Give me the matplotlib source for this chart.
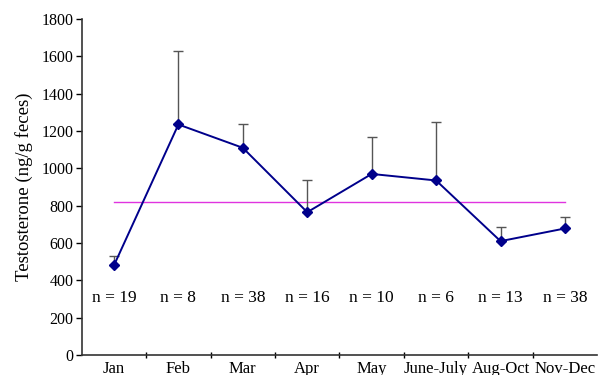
import numpy as np
import matplotlib.pyplot as plt

# 데이터
months = ["Jan", "Feb", "Mar", "Apr", "May", "June-July", "Aug-Oct", "Nov-Dec"]
mean_t = [480, 1235, 1110, 765, 970, 935, 610, 678]
err_up = [50, 395, 130, 175, 200, 315, 77, 60]
n_labels = ["n = 19", "n = 8", "n = 38", "n = 16", "n = 10", "n = 6", "n = 13", "n = 38"]
overall_mean = 820

plt.rcParams['font.family'] = ['Liberation Serif', 'DejaVu Serif']

fig = plt.figure(figsize=(6.1, 3.75), dpi=100)
ax = fig.add_axes([0.134, 0.0533, 0.845, 0.896])

x = np.arange(len(months))

# 평균선
ax.plot([x[0], x[-1]], [overall_mean, overall_mean], color="#e033e0", lw=1.0, zorder=1)

# 오차 막대 (위쪽만)
ax.errorbar(x, mean_t, yerr=[np.zeros(len(x)), err_up], fmt="none",
            ecolor="#555555", elinewidth=1.0, capsize=3.5, capthick=1.0, zorder=2)
ax.plot(x, mean_t, color="#00008b", lw=1.4, marker="D", markersize=5.5, zorder=3)

for xi, lab in zip(x, n_labels):
    ax.text(xi, 305, lab, ha="center", va="center", fontsize=12.5)

ax.set_xlim(-0.5, len(months) - 0.5)
ax.set_ylim(0, 1800)
ax.set_yticks(np.arange(0, 1801, 200))
ax.set_xticks(x)
ax.set_xticklabels(months, fontsize=12)
ax.set_xticks(np.arange(0.5, len(months) - 1, 1), minor=True)
ax.tick_params(axis="x", which="major", length=0, pad=4)
ax.tick_params(axis="x", which="minor", length=4, direction="inout", width=1)
ax.tick_params(axis="y", length=4, width=1, labelsize=11.5, pad=2)

for s in ["top", "right"]:
    ax.spines[s].set_visible(False)
for s in ["left", "bottom"]:
    ax.spines[s].set_linewidth(1.2)
    ax.spines[s].set_color("#333333")

ax.set_ylabel("Testosterone (ng/g feces)", fontsize=13.5, labelpad=6)

fig.savefig("out.png", dpi=100)
